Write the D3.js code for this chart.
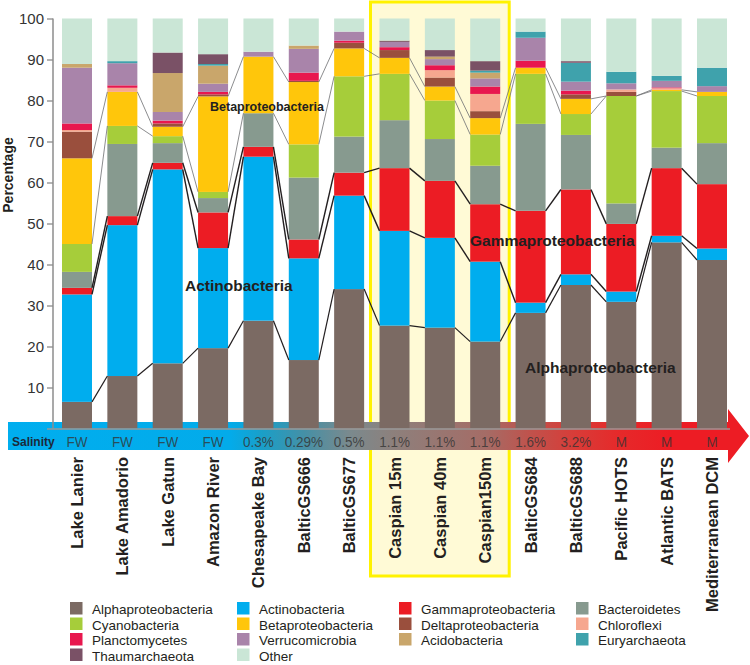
<!DOCTYPE html>
<html>
<head>
<meta charset="utf-8">
<script src="https://cdn.jsdelivr.net/npm/d3@7"></script>
<style>
  body { margin: 0; background: #fff; }
  text { font-family: "Liberation Sans", Arial, sans-serif; }
</style>
</head>
<body>
<script>
const sites = [
  "Lake Lanier", "Lake Amadorio", "Lake Gatun", "Amazon River", "Chesapeake Bay",
  "BalticGS666", "BalticGS677", "Caspian 15m", "Caspian 40m", "Caspian150m",
  "BalticGS684", "BalticGS688", "Pacific HOTS", "Atlantic BATS", "Mediterranean DCM",
];
const salinity = ["FW", "FW", "FW", "FW", "0.3%", "0.29%", "0.5%", "1.1%", "1.1%", "1.1%", "1.6%", "3.2%", "M", "M", "M"];

// percentages per site, stacked bottom to top in this order
const alphaproteobacteria = [6.5, 12.8, 15.9, 19.6, 26.3, 16.7, 34.0, 25.1, 24.6, 21.2, 28.2, 35.0, 30.9, 45.4, 41.1];
const actinobacteria = [26.2, 36.8, 47.3, 24.4, 40.0, 24.8, 22.8, 23.1, 21.9, 19.5, 2.5, 2.6, 2.5, 1.6, 2.8];
const gammaproteobacteria = [1.6, 2.2, 1.6, 8.7, 2.4, 4.6, 5.6, 15.3, 13.9, 14.0, 22.4, 20.7, 16.5, 16.5, 15.7];
const bacteroidetes = [3.9, 17.6, 4.8, 3.5, 8.2, 15.1, 8.8, 11.7, 10.2, 9.4, 21.2, 13.3, 5.0, 5.0, 10.0];
const cyanobacteria = [6.8, 4.4, 1.7, 1.5, 0, 8.1, 14.7, 11.3, 9.4, 7.6, 12.2, 5.1, 26.2, 13.8, 11.5];
const betaproteobacteria = [20.9, 8.3, 2.3, 23.3, 13.8, 15.2, 6.8, 3.9, 3.4, 4.0, 1.5, 3.7, 0, 0.3, 1.0];
const deltaproteobacteria = [6.5, 0, 0.8, 0.5, 0, 0.3, 1.4, 1.9, 2.2, 1.7, 0, 1.1, 1.0, 0, 0];
const chloroflexi = [0.4, 1.0, 0, 0, 0, 0, 0, 0, 1.8, 4.2, 0, 0, 0.6, 0.4, 0];
const planctomycetes = [1.6, 0.6, 0.7, 0.6, 0, 2.0, 0.5, 0.7, 1.2, 1.8, 1.7, 0.9, 0, 0.2, 0];
const verrucomicrobia = [13.6, 5.4, 2.1, 2.0, 1.2, 5.8, 2.2, 1.3, 1.5, 2.0, 5.6, 2.2, 1.5, 1.6, 1.4];
const acidobacteria = [0.9, 0, 9.5, 4.4, 0, 0.8, 0, 0, 0.6, 1.4, 0, 0, 0, 0, 0];
const euryarchaeota = [0, 0.5, 0, 0.4, 0, 0, 0, 0, 0, 0.5, 1.5, 4.6, 2.8, 1.2, 4.5];
const thaumarchaeota = [0, 0, 5.0, 2.4, 0, 0, 0, 0.3, 1.6, 2.3, 0, 0.4, 0, 0, 0];
const other = [11.1, 10.4, 8.3, 8.7, 8.1, 6.6, 3.2, 5.4, 7.7, 10.4, 3.2, 10.4, 13.0, 14.0, 12.0];

const yTicks = [10, 20, 30, 40, 50, 60, 70, 80, 90, 100];

const taxa = [
  { name: "Alphaproteobacteria", values: alphaproteobacteria, color: "#7b6a63" },
  { name: "Actinobacteria", values: actinobacteria, color: "#00adee" },
  { name: "Gammaproteobacteria", values: gammaproteobacteria, color: "#ec1c24" },
  { name: "Bacteroidetes", values: bacteroidetes, color: "#879a8f" },
  { name: "Cyanobacteria", values: cyanobacteria, color: "#a6cd3a" },
  { name: "Betaproteobacteria", values: betaproteobacteria, color: "#ffc60b" },
  { name: "Deltaproteobacteria", values: deltaproteobacteria, color: "#9a4f3d" },
  { name: "Chloroflexi", values: chloroflexi, color: "#f6a78f" },
  { name: "Planctomycetes", values: planctomycetes, color: "#e8174e" },
  { name: "Verrucomicrobia", values: verrucomicrobia, color: "#a984aa" },
  { name: "Acidobacteria", values: acidobacteria, color: "#c9a66b" },
  { name: "Euryarchaeota", values: euryarchaeota, color: "#3fa2ac" },
  { name: "Thaumarchaeota", values: thaumarchaeota, color: "#7a5166" },
  { name: "Other", values: other, color: "#cae6d6" },
];

const legendColumns = [
  ["Alphaproteobacteria", "Cyanobacteria", "Planctomycetes", "Thaumarchaeota"],
  ["Actinobacteria", "Betaproteobacteria", "Verrucomicrobia", "Other"],
  ["Gammaproteobacteria", "Deltaproteobacteria", "Acidobacteria"],
  ["Bacteroidetes", "Chloroflexi", "Euryarchaeota"],
];

const w = 750;
const h = 665;

const rows = sites.map((s, i) => {
  const r = { site: s };
  taxa.forEach((t) => (r[t.name] = t.values[i]));
  return r;
});

const series = d3.stack().keys(taxa.map((t) => t.name))(rows);
const colorOf = new Map(taxa.map((t) => [t.name, t.color]));

const x = d3.scaleBand().domain(sites).range([62, 727]).paddingInner(0.3386).paddingOuter(0);
const y = d3.scaleLinear().domain([0, 100]).range([428.5, 18.5]);

const svg = d3.select("body").append("svg").attr("width", w).attr("height", h);

// Caspian highlight box
const casp = ["Caspian 15m", "Caspian150m"];
svg
  .append("rect")
  .attr("x", x(casp[0]) - 9)
  .attr("y", 2)
  .attr("width", x(casp[1]) + x.bandwidth() + 9 - (x(casp[0]) - 9))
  .attr("height", 574)
  .attr("fill", "#fffad6")
  .attr("stroke", "#fff200")
  .attr("stroke-width", 3);

// salinity arrow
const grad = svg
  .append("defs")
  .append("linearGradient")
  .attr("id", "sal")
  .attr("gradientUnits", "userSpaceOnUse")
  .attr("x1", 8)
  .attr("x2", 749)
  .attr("y1", 0)
  .attr("y2", 0);
[
  [0, "#00aeef"],
  [0.3, "#03abea"],
  [0.343, "#1a9fc8"],
  [0.4, "#4590a6"],
  [0.46, "#7a8a8e"],
  [0.52, "#8d807c"],
  [0.645, "#a56c66"],
  [0.705, "#c0524c"],
  [0.765, "#d83c38"],
  [0.826, "#e6292a"],
  [0.893, "#ed1c24"],
  [1, "#ed1c24"],
].forEach(([o, c]) => grad.append("stop").attr("offset", o).attr("stop-color", c));

svg
  .append("path")
  .attr("d", "M8,422 L728,422 L728,409 L749,436 L728,463 L728,450 L8,450 Z")
  .attr("fill", "url(#sal)");

// bars
svg
  .append("g")
  .selectAll("g")
  .data(series)
  .join("g")
  .attr("fill", (d) => colorOf.get(d.key))
  .selectAll("rect")
  .data((d) => d)
  .join("rect")
  .attr("x", (d) => x(d.data.site))
  .attr("y", (d) => y(d[1]))
  .attr("width", x.bandwidth())
  .attr("height", (d) => y(d[0]) - y(d[1]));

// connector lines between neighbouring bars
const connect = (key, edge, color, width) => {
  const s = series.find((d) => d.key === key);
  const segs = d3.pairs(s.map((d, i) => ({ i, v: d[edge] })));
  svg
    .append("g")
    .selectAll("line")
    .data(segs)
    .join("line")
    .attr("x1", ([a]) => x(sites[a.i]) + x.bandwidth())
    .attr("x2", ([, b]) => x(sites[b.i]))
    .attr("y1", ([a]) => y(a.v))
    .attr("y2", ([, b]) => y(b.v))
    .attr("stroke", color)
    .attr("stroke-width", width);
};
connect("Alphaproteobacteria", 1, "#231f20", 1.2);
connect("Actinobacteria", 1, "#231f20", 1.4);
connect("Gammaproteobacteria", 1, "#231f20", 1.4);
connect("Betaproteobacteria", 0, "#6d6e71", 0.8);
connect("Betaproteobacteria", 1, "#6d6e71", 0.8);

// axes
const yAxis = svg.append("g").attr("transform", "translate(53,0)").call(
  d3.axisLeft(y).tickValues(yTicks).tickSize(6).tickPadding(3)
);
yAxis.select(".domain").attr("stroke", "#8c8c8c").attr("stroke-width", 1.5).attr("d", `M0,${y(100)}V${y(0)}`);
yAxis.selectAll(".tick line").attr("stroke", "#8c8c8c").attr("stroke-width", 1.3);
yAxis.selectAll(".tick text").attr("font-size", 15).attr("fill", "#333").attr("font-family", "Liberation Sans, Arial, sans-serif");

svg
  .append("line")
  .attr("x1", 47)
  .attr("x2", 730)
  .attr("y1", 429)
  .attr("y2", 429)
  .attr("stroke", "#999")
  .attr("stroke-width", 1.5);

svg
  .append("text")
  .attr("transform", "translate(13,175) rotate(-90)")
  .attr("text-anchor", "middle")
  .attr("font-size", 14)
  .attr("font-weight", "bold")
  .attr("fill", "#231f20")
  .text("Percentage");

// salinity labels
svg
  .append("text")
  .attr("x", 12)
  .attr("y", 446)
  .attr("font-size", 12)
  .attr("font-weight", "bold")
  .attr("fill", "#1c2a3a")
  .text("Salinity");

svg
  .append("g")
  .selectAll("text")
  .data(salinity)
  .join("text")
  .attr("transform", (d, i) => `translate(${x(sites[i]) + x.bandwidth() / 2},447) scale(0.9,1)`)
  .attr("text-anchor", "middle")
  .attr("font-size", 15)
  .attr("fill", "#333")
  .attr("fill-opacity", 0.8)
  .text((d) => d);

// site labels
svg
  .append("g")
  .selectAll("text")
  .data(sites)
  .join("text")
  .attr("transform", (d) => `translate(${x(d) + x.bandwidth() / 2 + 6},457) rotate(-90)`)
  .attr("text-anchor", "end")
  .attr("font-size", 16.5)
  .attr("font-weight", "bold")
  .attr("fill", "#231f20")
  .text((d) => d);

// in-chart taxon labels
const notes = [
  ["Betaproteobacteria", 210, 110.5, 12.5],
  ["Actinobacteria", 185, 291, 15.5],
  ["Gammaproteobacteria", 470, 246, 15.5],
  ["Alphaproteobacteria", 525, 373, 15.5],
];
svg
  .append("g")
  .selectAll("text")
  .data(notes)
  .join("text")
  .attr("x", (d) => d[1])
  .attr("y", (d) => d[2])
  .attr("font-size", (d) => d[3])
  .attr("font-weight", "bold")
  .attr("fill", "#231f20")
  .text((d) => d[0]);

// legend
const colX = [70, 237, 399, 576];
const rowY = [609.5, 625, 640.5, 656];
const legend = svg.append("g");
legendColumns.forEach((col, c) => {
  col.forEach((name, r) => {
    legend
      .append("rect")
      .attr("x", colX[c])
      .attr("y", rowY[r] - 7.5)
      .attr("width", 12.5)
      .attr("height", 12.5)
      .attr("fill", colorOf.get(name));
    legend
      .append("text")
      .attr("x", colX[c] + 22)
      .attr("y", rowY[r] + 4.5)
      .attr("font-size", 13.5)
      .attr("fill", "#231f20")
      .text(name);
  });
});
</script>
</body>
</html>
